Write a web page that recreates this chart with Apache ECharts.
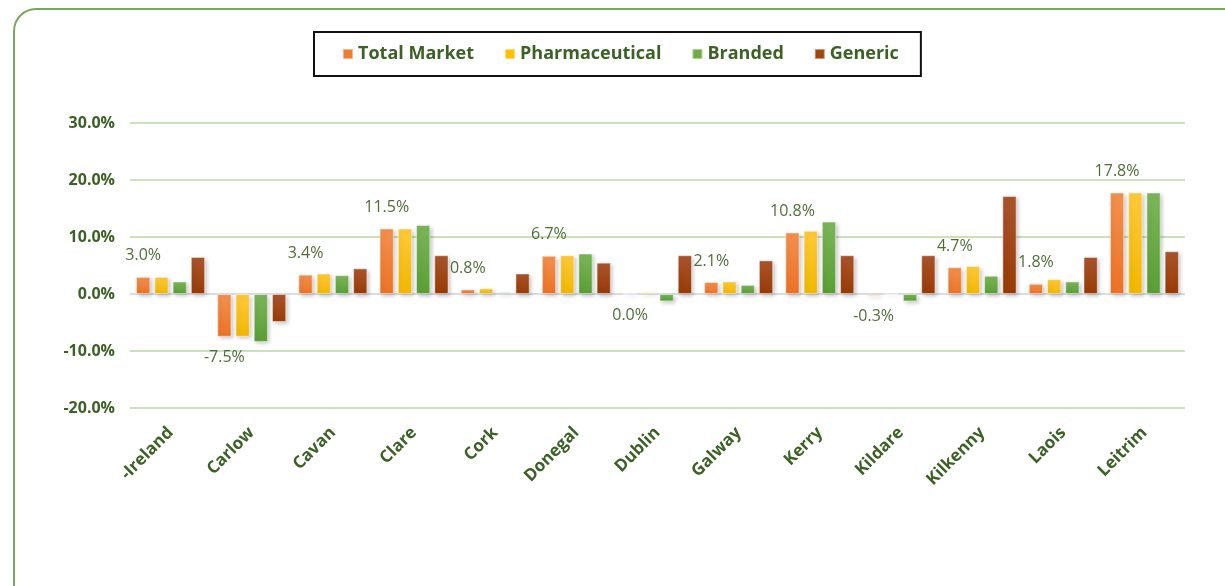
<!DOCTYPE html>
<html>
<head>
<meta charset="utf-8">
<script src="https://cdn.jsdelivr.net/npm/echarts@6/dist/echarts.min.js"></script>
<style>
  html, body { margin: 0; padding: 0; background: #fff; }
  #chart { width: 1225px; height: 586px; }
</style>
</head>
<body>
<div id="chart"></div>
<script>
// county data, % change
const categories = ['-Ireland', 'Carlow', 'Cavan', 'Clare', 'Cork', 'Donegal', 'Dublin', 'Galway', 'Kerry', 'Kildare', 'Kilkenny', 'Laois', 'Leitrim']
const totalMarket = [3.0, -7.5, 3.4, 11.5, 0.8, 6.7, 0.0, 2.1, 10.8, -0.3, 4.7, 1.8, 17.8]
const pharmaceutical = [3.0, -7.5, 3.6, 11.5, 1.0, 6.8, 0.3, 2.2, 11.1, -0.1, 4.9, 2.6, 17.8]
const branded = [2.2, -8.4, 3.3, 12.1, 0.3, 7.1, -1.3, 1.6, 12.7, -1.3, 3.2, 2.2, 17.8]
const generic = [6.5, -4.9, 4.5, 6.8, 3.6, 5.5, 6.8, 5.9, 6.8, 6.8, 17.2, 6.5, 7.5]
const yTicks = [-20, -10, 0, 10, 20, 30]

const green = '#3b6125'
const font = 'Open Sans'

function grad(top, bottom) {
  return new echarts.graphic.LinearGradient(0, 0, 0, 1, [
    { offset: 0, color: top },
    { offset: 1, color: bottom }
  ])
}

function barSeries(name, values, top, bottom, withLabel) {
  return {
    name: name,
    type: 'bar',
    barGap: '28%',
    barCategoryGap: '15%',
    itemStyle: {
      color: grad(top, bottom),
      borderColor: 'rgba(255,255,255,0.45)',
      borderWidth: 1,
      shadowColor: 'rgba(0,0,0,0.22)',
      shadowBlur: 4,
      shadowOffsetX: 2,
      shadowOffsetY: 2
    },
    data: values.map(v => withLabel ? {
      value: v,
      label: { position: v <= 0 ? 'bottom' : 'top' }
    } : v),
    label: {
      show: withLabel,
      distance: 13,
      color: '#4f6e36',
      fontFamily: font,
      fontSize: 16,
      formatter: p => p.value.toFixed(1) + '%'
    }
  }
}

const chart = echarts.init(document.getElementById('chart'))
chart.setOption({
  animation: false,
  graphic: [{
    type: 'rect',
    shape: { x: 14, y: 9, width: 1240, height: 620, r: 22 },
    style: { fill: 'none', stroke: '#79a85a', lineWidth: 2 },
    z: -1
  }],
  legend: {
    top: 32,
    left: 314,
    padding: [13, 22, 13, 28],
    borderColor: '#111',
    borderWidth: 2,
    itemWidth: 10,
    itemHeight: 10,
    itemGap: 30,
    icon: 'rect',
    textStyle: { color: green, fontFamily: font, fontWeight: 'bold', fontSize: 18 },
    data: [
      { name: 'Total Market', itemStyle: { color: '#ee7d31' } },
      { name: 'Pharmaceutical', itemStyle: { color: '#ffc000' } },
      { name: 'Branded', itemStyle: { color: '#70ad47' } },
      { name: 'Generic', itemStyle: { color: '#9e480e' } }
    ]
  },
  grid: { left: 130, right: 40, top: 123, bottom: 178 },
  xAxis: {
    type: 'category',
    data: categories,
    axisLine: { show: false, onZero: false },
    axisTick: { show: false },
    axisLabel: {
      rotate: 45,
      margin: 22,
      interval: 0,
      color: green,
      fontFamily: font,
      fontWeight: 'bold',
      fontSize: 17
    }
  },
  yAxis: {
    type: 'value',
    min: yTicks[0],
    max: yTicks[yTicks.length - 1],
    interval: 10,
    axisLabel: {
      margin: 15,
      color: green,
      fontFamily: font,
      fontWeight: 'bold',
      fontSize: 16,
      formatter: v => v.toFixed(1) + '%'
    },
    splitLine: { lineStyle: { color: '#c9e2b8', width: 2 } }
  },
  series: [
    Object.assign(barSeries('Total Market', totalMarket, '#f3914f', '#ec7224', true), {
      markLine: {
        silent: true,
        symbol: 'none',
        label: { show: false },
        lineStyle: { color: '#d9dde6', width: 2, type: 'solid' },
        data: [{ yAxis: 0 }],
        z: 1
      }
    }),
    barSeries('Pharmaceutical', pharmaceutical, '#ffca3a', '#f1b700', false),
    barSeries('Branded', branded, '#7cb65a', '#5a9e34', false),
    barSeries('Generic', generic, '#aa552d', '#983a05', false)
  ]
})
</script>
</body>
</html>
